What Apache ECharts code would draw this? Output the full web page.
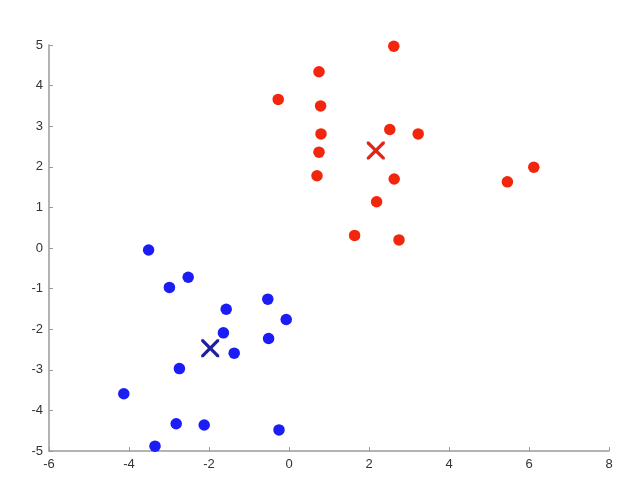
<!DOCTYPE html>
<html>
<head>
<meta charset="utf-8">
<script src="https://cdn.jsdelivr.net/npm/echarts@6/dist/echarts.min.js"></script>
<style>html,body{margin:0;padding:0;background:#fff;}#c{width:637px;height:481px;}</style>
</head>
<body>
<div id="c"></div>
<script>
const redPoints = [
  [2.62, 4.97], [0.75, 4.34], [-0.27, 3.66], [0.79, 3.50], [0.80, 2.81],
  [2.52, 2.92], [3.23, 2.81], [0.75, 2.36], [0.70, 1.78], [2.63, 1.70],
  [2.19, 1.14], [1.64, 0.31], [2.75, 0.20], [6.12, 1.99], [5.46, 1.63]
];
const bluePoints = [
  [-3.51, -0.05], [-2.52, -0.72], [-2.99, -0.97], [-0.53, -1.26], [-1.57, -1.51],
  [-0.07, -1.76], [-1.64, -2.09], [-0.51, -2.23], [-1.37, -2.59], [-2.74, -2.97],
  [-4.13, -3.59], [-2.82, -4.33], [-2.12, -4.36], [-0.25, -4.48], [-3.35, -4.88]
];
const redCentroid = [[2.17, 2.40]];
const blueCentroid = [[-1.97, -2.47]];
const xRange = [-6, 8];
const yRange = [-5, 5];

const xPath = 'path://M0,0 L2.6,0 L10,7.4 L17.4,0 L20,0 L20,2.6 L12.6,10 L20,17.4 L20,20 L17.4,20 L10,12.6 L2.6,20 L0,20 L0,17.4 L7.4,10 L0,2.6 Z';

const chart = echarts.init(document.getElementById('c'), null, {renderer: 'canvas'});
const axisCommon = {
  axisLine: {show: true, onZero: false, lineStyle: {color: '#9a9a9a', width: 1.5}},
  axisTick: {show: true, inside: true, length: 4, lineStyle: {color: '#9a9a9a', width: 1}},
  splitLine: {show: false},
  axisLabel: {color: '#333', fontSize: 13, fontFamily: 'Liberation Sans, Arial, sans-serif'}
};
chart.setOption({
  animation: false,
  backgroundColor: '#fff',
  grid: {left: 49, right: 28, top: 45, bottom: 30, containLabel: false},
  xAxis: Object.assign({type: 'value', min: xRange[0], max: xRange[1], interval: 2}, axisCommon,
    {axisLabel: Object.assign({}, axisCommon.axisLabel, {margin: 7})}),
  yAxis: Object.assign({type: 'value', min: yRange[0], max: yRange[1], interval: 1}, axisCommon,
    {axisLabel: Object.assign({}, axisCommon.axisLabel, {margin: 6})}),
  series: [
    {type: 'scatter', data: redPoints, symbol: 'circle', symbolSize: 11.5,
     itemStyle: {color: '#f2260c', opacity: 1}},
    {type: 'scatter', data: bluePoints, symbol: 'circle', symbolSize: 11.5,
     itemStyle: {color: '#1c1cf5', opacity: 1}},
    {type: 'scatter', data: redCentroid, symbol: xPath, symbolSize: 18,
     itemStyle: {color: '#e0261a', opacity: 1}},
    {type: 'scatter', data: blueCentroid, symbol: xPath, symbolSize: 18,
     itemStyle: {color: '#1f1fa0', opacity: 1}}
  ]
});
</script>
</body>
</html>
